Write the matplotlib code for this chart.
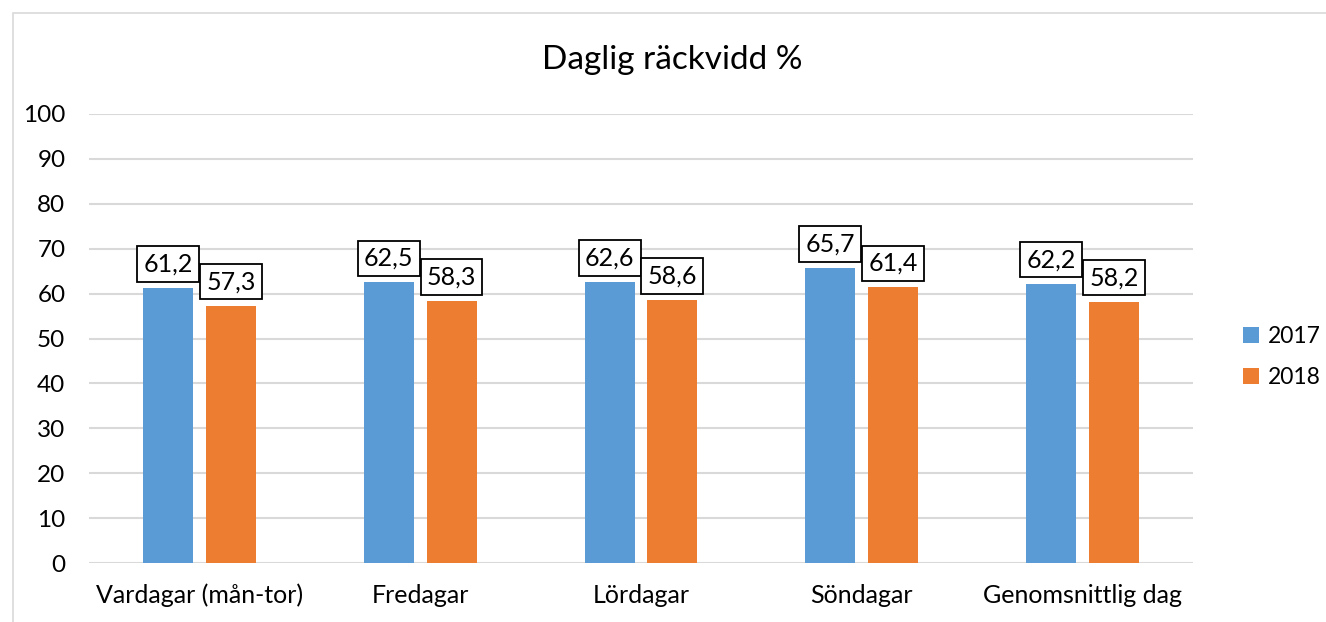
import numpy as np
import matplotlib
matplotlib.use("Agg")
import matplotlib.pyplot as plt
from matplotlib.patches import Rectangle

plt.rcParams['font.family'] = ['Lato', 'DejaVu Sans']

categories = ["Vardagar (mån-tor)", "Fredagar", "Lördagar", "Söndagar", "Genomsnittlig dag"]
vals_2017 = [61.2, 62.5, 62.6, 65.7, 62.2]
vals_2018 = [57.3, 58.3, 58.6, 61.4, 58.2]
series_names = ["2017", "2018"]
yticks = [0, 10, 20, 30, 40, 50, 60, 70, 80, 90, 100]

blue = "#5b9bd5"
orange = "#ed7d31"

fig = plt.figure(figsize=(13.26, 6.22), dpi=100)
# chart area border like in Excel
fig.patches.append(Rectangle((13 / 1326, -0.01), 1.05, 1 - 13 / 622 + 0.01,
                             transform=fig.transFigure, fill=False,
                             edgecolor="#d9d9d9", linewidth=1.2))

ax = fig.add_axes([89 / 1326, 1 - 563 / 622, (1193 - 89) / 1326, (563 - 114) / 622])

x = np.arange(len(categories))
w = 0.226
off = 0.142
b1 = ax.bar(x - off, vals_2017, w, color=blue, label=series_names[0], zorder=3)
b2 = ax.bar(x + off, vals_2018, w, color=orange, label=series_names[1], zorder=3)

for bars, vals in [(b1, vals_2017), (b2, vals_2018)]:
    for b, v in zip(bars, vals):
        ax.annotate(f"{v:.1f}".replace(".", ","),
                    (b.get_x() + b.get_width() / 2, v),
                    xytext=(0, 9), textcoords="offset points",
                    ha="center", va="bottom", fontsize=18, color="#000000",
                    bbox=dict(boxstyle="square,pad=0.25", fc="white", ec="black", lw=1.3),
                    zorder=5)

ax.set_xlim(-0.5, len(categories) - 0.5)
ax.set_ylim(0, 100)
ax.set_yticks(yticks)
ax.set_xticks(x)
ax.set_xticklabels(categories, fontsize=18)
ax.tick_params(axis="both", length=0, colors="#000000")
ax.tick_params(axis="y", pad=17, labelsize=17.5)
ax.tick_params(axis="x", pad=15)
ax.yaxis.grid(True, color="#d9d9d9", linewidth=1.5, zorder=0)
for s in ax.spines.values():
    s.set_visible(False)

fig.text(672 / 1326, 1 - 60 / 622, "Daglig räckvidd %", ha="center", va="center", fontsize=24)

fig.legend(loc="center left", bbox_to_anchor=(1222 / 1326, 1 - 357 / 622), frameon=False,
           fontsize=16.5, handlelength=0.7, handleheight=0.7, handletextpad=0.4,
           labelspacing=0.9)

fig.savefig("out.png", dpi=100)
